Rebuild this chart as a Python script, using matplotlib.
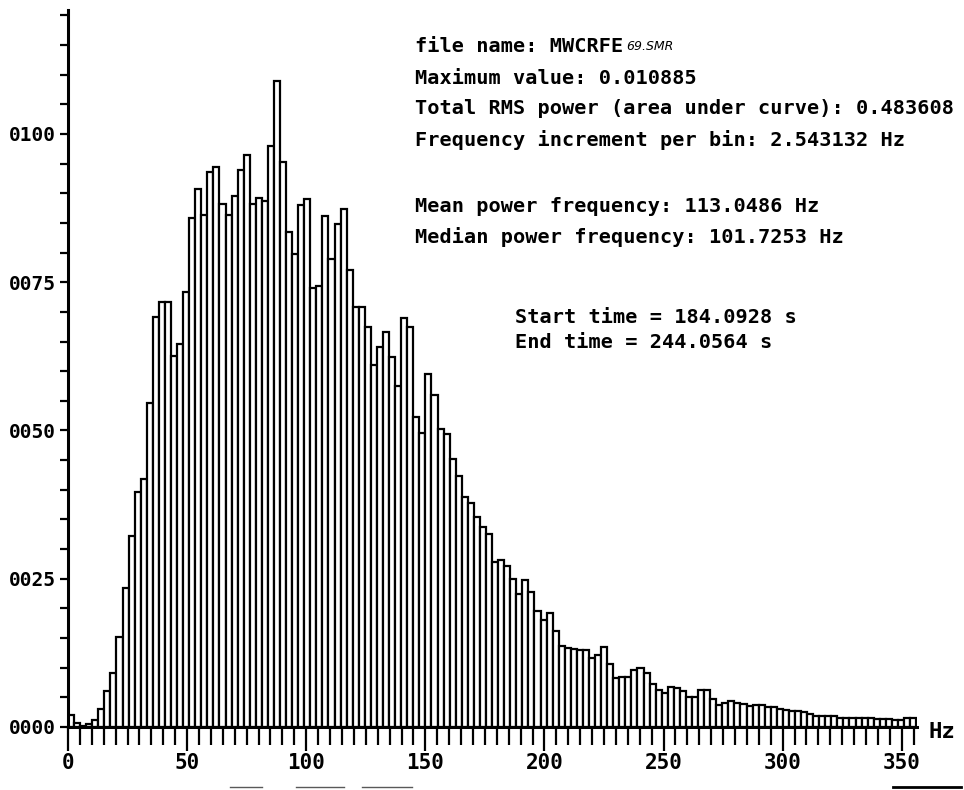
import matplotlib
matplotlib.use("Agg")
import matplotlib.pyplot as plt
from matplotlib.lines import Line2D
from matplotlib.ticker import MultipleLocator, FixedLocator, FixedFormatter

# power spectrum, one value per frequency bin
BIN_WIDTH = 2.543132
power = [
    0.00020, 0.00007, 0.00002, 0.00005, 0.00012, 0.00030, 0.00060, 0.00091, 0.00152, 0.00234,
    0.00322, 0.00396, 0.00418, 0.00546, 0.00692, 0.00716, 0.00716, 0.00626, 0.00645, 0.00734,
    0.00858, 0.00907, 0.00863, 0.00935, 0.00944, 0.00882, 0.00864, 0.00895, 0.00939, 0.00965,
    0.00882, 0.00892, 0.00887, 0.00980, 0.010885, 0.00953, 0.00834, 0.00797, 0.00881, 0.00891,
    0.00741, 0.00744, 0.00862, 0.00789, 0.00848, 0.00873, 0.00771, 0.00708, 0.00708, 0.00675,
    0.00611, 0.00641, 0.00666, 0.00624, 0.00575, 0.00690, 0.00675, 0.00522, 0.00496, 0.00595,
    0.00559, 0.00503, 0.00494, 0.00452, 0.00424, 0.00388, 0.00377, 0.00354, 0.00338, 0.00325,
    0.00278, 0.00282, 0.00271, 0.00250, 0.00225, 0.00248, 0.00227, 0.00196, 0.00181, 0.00192,
    0.00162, 0.00137, 0.00134, 0.00132, 0.00130, 0.00130, 0.00116, 0.00122, 0.00135, 0.00107,
    0.00083, 0.00085, 0.00085, 0.00096, 0.00099, 0.00091, 0.00072, 0.00062, 0.00058, 0.00068,
    0.00065, 0.00060, 0.00051, 0.00051, 0.00062, 0.00062, 0.00047, 0.00037, 0.00041, 0.00044,
    0.00041, 0.00038, 0.00036, 0.00037, 0.00037, 0.00034, 0.00034, 0.00030, 0.00029, 0.00027,
    0.00027, 0.00026, 0.00022, 0.00019, 0.00019, 0.00019, 0.00018, 0.00016, 0.00016, 0.00015,
    0.00015, 0.00015, 0.00015, 0.00013, 0.00013, 0.00013, 0.00012, 0.00012, 0.00015, 0.00016,
]
y_ticks = [0.0, 0.0025, 0.0050, 0.0075, 0.0100]
y_labels = ["0000", "0025", "0050", "0075", "0100"]
x_ticks = [0, 50, 100, 150, 200, 250, 300, 350]

info_lines = [
    "file name: MWCRFE",
    "Maximum value: 0.010885",
    "Total RMS power (area under curve): 0.483608",
    "Frequency increment per bin: 2.543132 Hz",
    "Mean power frequency: 113.0486 Hz",
    "Median power frequency: 101.7253 Hz",
]
file_note = "69.SMR"
time_lines = ["Start time = 184.0928 s", "End time = 244.0564 s"]

W, H = 964, 790
FONT = "DejaVu Sans Mono"

fig = plt.figure(figsize=(W / 100, H / 100), dpi=100)
fig.patch.set_facecolor("white")

# axes box in pixel units: left edge, baseline, right end, top of y axis
x0, y_base, x1, y_top = 68, 727, 917, 10
ax = fig.add_axes([x0 / W, 1 - y_base / H, (x1 - x0) / W, (y_base - y_top) / H])

edges = [i * BIN_WIDTH for i in range(len(power))]
ax.bar(edges, power, width=BIN_WIDTH, align="edge",
       facecolor="white", edgecolor="black", linewidth=1.6)

ax.set_xlim(0, 356.4)
ax.set_ylim(0, 0.01209)

for side in ("top", "right"):
    ax.spines[side].set_visible(False)
for side in ("left", "bottom"):
    ax.spines[side].set_linewidth(2.2)

ax.yaxis.set_major_locator(FixedLocator(y_ticks))
ax.yaxis.set_major_formatter(FixedFormatter(y_labels))
ax.yaxis.set_minor_locator(MultipleLocator(0.0005))
ax.tick_params(axis="y", which="both", direction="out", length=6, width=1.6, pad=3)

ax.xaxis.set_major_locator(FixedLocator(x_ticks))
ax.xaxis.set_minor_locator(MultipleLocator(5))
ax.tick_params(axis="x", which="major", direction="out", length=17, width=1.6, pad=2)
ax.tick_params(axis="x", which="minor", direction="out", length=13, width=1.6)

for lab in ax.get_xticklabels():
    lab.set_fontfamily(FONT)
    lab.set_fontweight("bold")
    lab.set_fontsize(15)
for lab in ax.get_yticklabels():
    lab.set_fontfamily(FONT)
    lab.set_fontweight("bold")
    lab.set_fontsize(14)

# unit label at the end of the frequency axis
fig.text(929 / W, 1 - 732 / H, "Hz", fontfamily=FONT, fontweight="bold",
         fontsize=16, va="center", ha="left")

# header block with the spectrum statistics
line_y = [47, 78, 109, 140, 207, 237]
texts = []
for s, yy in zip(info_lines, line_y):
    texts.append(fig.text(415 / W, 1 - yy / H, s, fontfamily=FONT, fontweight="bold",
                          fontsize=14.6, va="center", ha="left"))
ax.annotate(file_note, xy=(1, 0.55), xycoords=texts[0], xytext=(2, 0),
            textcoords="offset points", va="center", ha="left",
            fontfamily="DejaVu Sans", fontstyle="italic", fontsize=9)

for s, yy in zip(time_lines, [318, 343]):
    fig.text(515 / W, 1 - yy / H, s, fontfamily=FONT, fontweight="bold",
             fontsize=14.6, va="center", ha="left")

# short rules along the bottom edge of the sheet
for xa, xb, col, lw in [(893, 961, "black", 2.0), (230, 262, "0.35", 1.0),
                        (296, 344, "0.35", 1.0), (362, 412, "0.35", 1.0)]:
    fig.add_artist(Line2D([xa / W, xb / W], [1 - 787 / H, 1 - 787 / H],
                          color=col, linewidth=lw))

fig.savefig("out.png", dpi=100, facecolor="white")
